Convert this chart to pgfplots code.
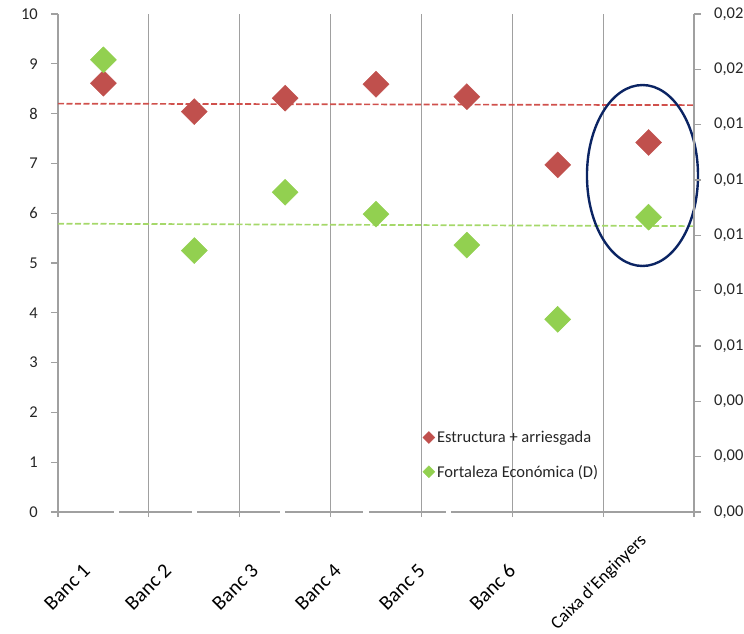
\documentclass[border=0pt]{standalone}
\usepackage{fontspec}
\setmainfont{Carlito}
\usepackage{pgfplots}
\pgfplotsset{compat=1.18}
\definecolor{mred}{HTML}{C0504D}
\definecolor{mgreen}{HTML}{92D050}
\definecolor{tred}{HTML}{D0504C}
\definecolor{tgreen}{HTML}{A5D86A}
\definecolor{navy}{HTML}{0B2463}
\definecolor{axgray}{HTML}{A0A0A0}
\definecolor{txt}{HTML}{262626}
\begin{document}
\begin{tikzpicture}
\begin{axis}[
  scale only axis, width=636pt, height=498pt,
  xmin=0.5, xmax=7.5, ymin=0, ymax=10,
  clip=false,
  axis x line*=bottom, axis y line*=left,
  axis line style={axgray, line width=1.2pt},
  every tick/.style={axgray, line width=1.2pt},
  ytick={0,...,10},
  ytick align=outside,
  xtick align=center,
  major tick length=7pt,
  minor tick length=10pt,
  xtick={0.764,1.656,2.613,3.527,4.451,5.442},
  xticklabels={Banc 1,Banc 2,Banc 3,Banc 4,Banc 5,Banc 6},
  major x tick style={draw=none},
  minor xtick={0.5,1.5,...,7.5},
  xminorgrids=true,
  minor x grid style={axgray, line width=1.2pt},
  xticklabel shift=47pt,
  extra x ticks={6.884},
  extra x tick labels={Caixa d'Enginyers},
  extra x tick style={grid=none, major tick length=0pt, xticklabel shift=20pt,
     xticklabel style={font=\fontsize{18}{20}\selectfont}},
  xticklabel style={rotate=45, anchor=north east, inner sep=0pt,
     font=\fontsize{20.5}{22}\selectfont, text=black},
  yticklabel style={font=\fontsize{16.5}{18}\selectfont, text=txt, inner sep=0pt, xshift=-13pt},
  /pgf/number format/assume math mode=true,
  legend style={at={(axis description cs:0.573,0.167)}, anchor=north west,
     draw=none, fill=none, font=\fontsize{16.5}{19}\selectfont, text=txt,
     row sep=17pt, inner sep=0pt,
     /tikz/every even column/.append style={column sep=4pt}},
  legend cell align=left,
  legend image code/.code={\fill[#1] (0pt,0pt) -- (6pt,6pt) -- (12pt,0pt) -- (6pt,-6pt) -- cycle;},
]
\coordinate (SW) at (rel axis cs:0,0);
\coordinate (NE) at (rel axis cs:1,1);
\addplot[only marks, mark=square*, color=mred, mark size=9.2pt, mark options={rotate=45, draw=none, fill=mred}]
  coordinates {(1,8.61) (2,8.04) (3,8.31) (4,8.59) (5,8.34) (6,6.97) (7,7.42)};
\addlegendentry{Estructura + arriesgada}
\addplot[only marks, mark=square*, color=mgreen, mark size=9.2pt, mark options={rotate=45, draw=none, fill=mgreen}]
  coordinates {(1,9.08) (2,5.25) (3,6.42) (4,5.98) (5,5.36) (6,3.87) (7,5.92)};
\addlegendentry{Fortaleza Económica (D)}
\addplot[forget plot, tred, line width=1.7pt, dash pattern=on 6pt off 2.5pt]
  coordinates {(0.5,8.20) (7.5,8.17)};
\addplot[forget plot, tgreen, line width=1.7pt, dash pattern=on 6pt off 2.5pt]
  coordinates {(0.5,5.79) (7.5,5.74)};
\draw[navy, line width=2.4pt] (axis cs:6.933,6.757) ellipse [x radius=0.611, y radius=1.817];
\fill[white] (axis cs:1.116,-0.03) rectangle (axis cs:1.171,0.03);
\fill[white] (axis cs:1.975,-0.03) rectangle (axis cs:2.030,0.03);
\fill[white] (axis cs:2.943,-0.03) rectangle (axis cs:2.998,0.03);
\fill[white] (axis cs:3.857,-0.03) rectangle (axis cs:3.923,0.03);
\fill[white] (axis cs:4.770,-0.03) rectangle (axis cs:4.826,0.03);
\end{axis}
\begin{axis}[
  scale only axis, width=636pt, height=498pt,
  xmin=0.5, xmax=7.5, ymin=0, ymax=9,
  axis x line=none, axis y line*=right,
  axis line style={axgray, line width=1.2pt},
  every tick/.style={axgray, line width=1.2pt},
  ytick={0,...,9},
  yticklabels={{0,00},{0,00},{0,00},{0,01},{0,01},{0,01},{0,01},{0,01},{0,02},{0,02}},
  ytick align=outside,
  major tick length=7pt,
  yticklabel style={font=\fontsize{16.5}{18}\selectfont, text=txt, inner sep=0pt, xshift=13pt},
]
\addplot[draw=none, forget plot] coordinates {(1,0)};
\end{axis}
\pgfresetboundingbox
\path[use as bounding box] ([xshift=-58pt,yshift=-122pt]SW) rectangle ([xshift=50pt,yshift=14pt]NE);
\end{tikzpicture}
\end{document}
